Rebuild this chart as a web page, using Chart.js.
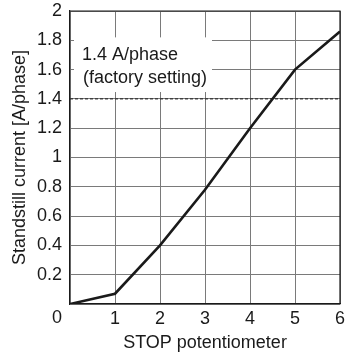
<!DOCTYPE html>
<html>
<head>
<meta charset="utf-8">
<script src="https://cdn.jsdelivr.net/npm/chart.js@4.4.1/dist/chart.umd.min.js"></script>
<style>
html,body{margin:0;padding:0;background:#fff;}
#wrap{width:345px;height:358px;position:relative;}
</style>
</head>
<body>
<div id="wrap"><canvas id="grafico"></canvas></div>
<script>
// dati
const potenziometro = [0, 1, 2, 3, 4, 5, 6];
const corrente = [0, 0.07, 0.4, 0.78, 1.2, 1.6, 1.86];
const factoryX = [0, 6];
const factoryY = [1.4, 1.4];
const labelFactory = ["1.4 A/phase", "(factory setting)"];

const FONT = "'Liberation Sans', Arial, sans-serif";
const FS = 18;

// riquadro bianco con la nota, sopra la griglia
const notaPlugin = {
	id: 'nota',
	beforeDatasetsDraw(chart){
		const ctx = chart.ctx;
		const xs = chart.scales.x, ys = chart.scales.y;
		const x0 = xs.getPixelForValue(0) + 4;
		const yTop = ys.getPixelForValue(1.82);
		const yBot = ys.getPixelForValue(1.447);
		ctx.save();
		ctx.fillStyle = '#fff';
		ctx.fillRect(x0, yTop, 138, yBot - yTop);
		ctx.fillStyle = '#1a1a1a';
		ctx.font = FS + "px " + FONT;
		ctx.textBaseline = 'middle';
		ctx.fillText(labelFactory[0], x0 + 8, ys.getPixelForValue(1.70));
		ctx.fillText(labelFactory[1], x0 + 9, ys.getPixelForValue(1.545));
		ctx.restore();
	},
	afterDraw(chart){
		// lo "0" dell'origine sta a sinistra dell'asse
		const ctx = chart.ctx;
		const xs = chart.scales.x;
		ctx.save();
		ctx.fillStyle = '#1a1a1a';
		ctx.font = FS + "px " + FONT;
		ctx.textAlign = 'center';
		ctx.textBaseline = 'middle';
		ctx.fillText('0', xs.getPixelForValue(0) - 13, chart.chartArea.bottom + 14);
		ctx.restore();
	}
};

const ctx = document.getElementById('grafico').getContext('2d');
new Chart(ctx, {
	type: 'line',
	data: {
		datasets: [{
			data: potenziometro.map((x, i) => ({x: x, y: corrente[i]})),
			borderColor: '#1a1a1a',
			borderWidth: 2.6,
			pointRadius: 0,
			tension: 0
		}, {
			data: factoryX.map((x, i) => ({x: x, y: factoryY[i]})),
			borderColor: '#1a1a1a',
			borderWidth: 1,
			borderDash: [3, 2],
			pointRadius: 0
		}]
	},
	options: {
		responsive: true,
		maintainAspectRatio: false,
		animation: false,
		layout: { padding: { top: 11, right: 5, left: 0, bottom: 0 } },
		plugins: { legend: { display: false }, tooltip: { enabled: false } },
		scales: {
			x: {
				type: 'linear', min: 0, max: 6,
				ticks: {
					stepSize: 1, color: '#1a1a1a', font: { family: FONT, size: FS },
					padding: 4,
					callback: v => v === 0 ? '' : v
				},
				grid: { color: '#7a7a7a', lineWidth: 1, drawTicks: false },
				border: { color: '#1a1a1a', width: 1.2 },
				title: { display: true, text: 'STOP potentiometer', color: '#1a1a1a', font: { family: FONT, size: FS }, padding: { top: 4 } },
				afterFit: s => { s.height = 54; s.paddingRight = 0; s.paddingLeft = 0; }
			},
			y: {
				min: 0, max: 2,
				ticks: {
					stepSize: 0.2, color: '#1a1a1a', font: { family: FONT, size: FS },
					padding: 8,
					callback: v => v === 0 ? '' : Math.round(v * 10) / 10
				},
				grid: { color: '#7a7a7a', lineWidth: 1, drawTicks: false },
				border: { color: '#1a1a1a', width: 1.2 },
				title: { display: true, text: 'Standstill current [A/phase]', color: '#1a1a1a', font: { family: FONT, size: FS }, padding: { top: 9, bottom: 2 } },
				afterFit: s => { s.width = 70; s.paddingTop = 0; s.paddingBottom = 0; }
			}
		}
	},
	plugins: [notaPlugin, {
		id: 'bordo',
		afterDatasetsDraw(chart){
			const a = chart.chartArea, c = chart.ctx;
			c.save();
			c.strokeStyle = '#1a1a1a';
			c.lineWidth = 1.2;
			c.beginPath();
			c.moveTo(a.left, a.top); c.lineTo(a.right, a.top); c.lineTo(a.right, a.bottom);
			c.stroke();
			c.restore();
		}
	}]
});
</script>
</body>
</html>
